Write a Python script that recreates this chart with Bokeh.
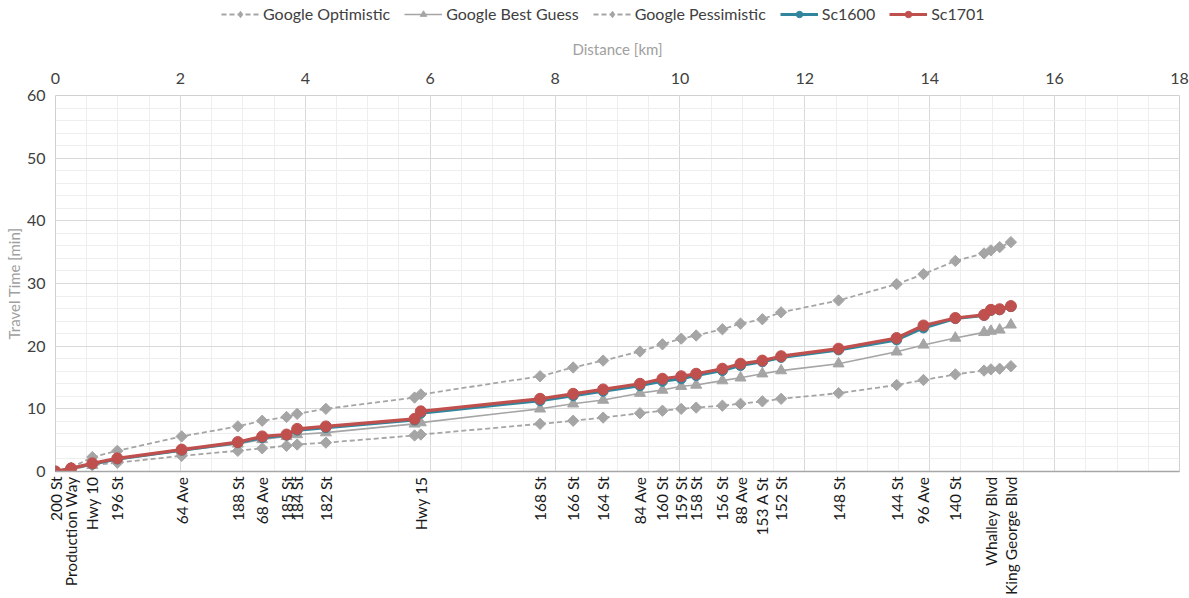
import math
from bokeh.plotting import figure
from bokeh.layouts import column
from bokeh.models import (LinearAxis, FixedTicker, SingleIntervalTicker, Range1d,
                          Legend, LegendItem)
from bokeh.embed import file_html
from bokeh.resources import INLINE

stations = ["200 St", "Production Way", "Hwy 10", "196 St", "64 Ave", "188 St", "68 Ave",
            "185 St", "184 St", "182 St", "", "Hwy 15", "168 St", "166 St", "164 St",
            "84 Ave", "160 St", "159 St", "158 St", "156 St", "88 Ave", "153 A St", "152 St",
            "148 St", "144 St", "96 Ave", "140 St", "", "Whalley Blvd", "", "King George Blvd"]
distance_km = [0.0, 0.25, 0.59, 0.99, 2.02, 2.92, 3.31, 3.70, 3.87, 4.33, 5.75, 5.85,
               7.76, 8.29, 8.77, 9.36, 9.72, 10.02, 10.26, 10.68, 10.97, 11.32, 11.62,
               12.54, 13.47, 13.90, 14.41, 14.87, 14.98, 15.12, 15.30]
google_optimistic = [0, 0.35, 1.0, 1.4, 2.5, 3.3, 3.7, 4.1, 4.3, 4.6, 5.75, 5.9, 7.6, 8.1,
                     8.6, 9.3, 9.7, 10.0, 10.2, 10.5, 10.8, 11.2, 11.6, 12.5, 13.8, 14.6,
                     15.5, 16.1, 16.3, 16.4, 16.8]
google_best_guess = [0, 0.4, 1.0, 1.9, 3.3, 4.4, 5.1, 5.6, 5.9, 6.2, 7.6, 7.8, 10.0, 10.8,
                     11.4, 12.5, 13.0, 13.6, 13.8, 14.5, 14.95, 15.6, 16.1, 17.2, 19.1, 20.2,
                     21.3, 22.2, 22.4, 22.6, 23.4]
google_pessimistic = [0, 0.6, 2.3, 3.3, 5.6, 7.2, 8.1, 8.7, 9.2, 10.0, 11.8, 12.3, 15.2,
                      16.6, 17.7, 19.15, 20.3, 21.2, 21.7, 22.7, 23.6, 24.3, 25.4, 27.3,
                      29.9, 31.5, 33.6, 34.8, 35.3, 35.8, 36.6]
sc1600 = [0, 0.5, 1.2, 2.0, 3.4, 4.6, 5.4, 5.8, 6.6, 7.0, 8.2, 9.3, 11.3, 12.1, 12.8, 13.7,
          14.4, 14.8, 15.3, 16.1, 16.9, 17.5, 18.2, 19.4, 21.0, 22.9, 24.4, 24.9, 25.7,
          25.8, 26.3]
sc1701 = [0, 0.5, 1.3, 2.1, 3.5, 4.7, 5.6, 5.9, 6.8, 7.2, 8.4, 9.6, 11.6, 12.4, 13.1, 14.0,
          14.8, 15.2, 15.6, 16.4, 17.2, 17.7, 18.4, 19.6, 21.3, 23.3, 24.5, 25.0, 25.8,
          25.9, 26.4]

FONT = "Lato"
GREY = "#a5a5a5"
TXT = "#404040"
RED = "#c0504d"
TEAL = "#31859c"

p = figure(width=1189, height=572, output_backend="svg", toolbar_location=None,
           x_range=Range1d(0, 18), y_range=Range1d(0, 60), x_axis_location="above",
           min_border_left=55, min_border_right=10, min_border_top=69, min_border_bottom=127)
p.background_fill_color = "white"
p.border_fill_color = "white"
p.outline_line_color = "#d0d0d0"

# top axis (distance)
top = p.xaxis[0]
top.ticker = SingleIntervalTicker(interval=2, num_minor_ticks=4)
top.axis_label = "Distance [km]"
top.axis_label_text_font = FONT
top.axis_label_text_font_style = "normal"
top.axis_label_text_font_size = "15px"
top.axis_label_text_color = "#a0a0a0"
top.axis_label_standoff = 12
top.major_label_text_font = FONT
top.major_label_text_font_size = "16px"
top.major_label_text_color = TXT
top.major_label_standoff = 12
top.axis_line_color = None
top.major_tick_line_color = None
top.minor_tick_line_color = None
top.major_tick_out = 0
top.minor_tick_out = 0

# left axis
ya = p.yaxis[0]
ya.ticker = SingleIntervalTicker(interval=10, num_minor_ticks=5)
ya.axis_label = "Travel Time [min]"
ya.axis_label_text_font = FONT
ya.axis_label_text_font_style = "normal"
ya.axis_label_text_font_size = "15px"
ya.axis_label_text_color = "#a0a0a0"
ya.axis_label_standoff = 1
ya.major_label_text_font = FONT
ya.major_label_text_font_size = "16px"
ya.major_label_text_color = TXT
ya.major_label_standoff = 10
ya.axis_line_color = None
ya.major_tick_line_color = None
ya.minor_tick_line_color = None
ya.major_tick_out = 0
ya.minor_tick_out = 0

# bottom axis with station names
bottom = LinearAxis(ticker=FixedTicker(ticks=distance_km),
                    major_label_overrides={d: s for d, s in zip(distance_km, stations)})
bottom.major_label_orientation = math.pi / 2
bottom.major_label_text_font = FONT
bottom.major_label_text_font_size = "15.5px"
bottom.major_label_text_color = "#1a1a1a"
bottom.major_label_standoff = 5
bottom.major_tick_line_color = None
bottom.minor_tick_line_color = None
bottom.major_tick_out = 0
bottom.minor_tick_out = 0
bottom.axis_line_color = "#a6a6a6"
bottom.axis_line_width = 1.5
p.add_layout(bottom, "below")

p.xgrid.grid_line_color = "#d9d9d9"
p.xgrid.minor_grid_line_color = "#eeeeee"
p.ygrid.grid_line_color = "#d9d9d9"
p.ygrid.minor_grid_line_color = "#eeeeee"

# series
p.line(distance_km, google_optimistic, line_color=GREY, line_width=1.8, line_dash="5 3")
p.scatter(distance_km, google_optimistic, marker="square", angle=math.pi / 4, size=8,
          fill_color=GREY, line_color=GREY)
p.line(distance_km, google_pessimistic, line_color=GREY, line_width=1.8, line_dash="5 3")
p.scatter(distance_km, google_pessimistic, marker="square", angle=math.pi / 4, size=8,
          fill_color=GREY, line_color=GREY)
p.line(distance_km, google_best_guess, line_color=GREY, line_width=1.6)
p.scatter(distance_km, google_best_guess, marker="triangle", size=11,
          fill_color=GREY, line_color=GREY)
p.line(distance_km, sc1600, line_color=TEAL, line_width=3)
p.scatter(distance_km, sc1600, marker="circle", size=10, fill_color=TEAL, line_color=TEAL)
p.line(distance_km, sc1701, line_color=RED, line_width=3.2)
p.scatter(distance_km, sc1701, marker="circle", size=11, fill_color=RED, line_color=RED)

# legend strip (separate small figure, glyph samples drawn off-range)
lg = figure(width=1189, height=26, output_backend="svg", toolbar_location=None,
            x_range=Range1d(0, 1), y_range=Range1d(0, 1), min_border=0,
            x_axis_location=None, y_axis_location=None)
lg.grid.visible = False
lg.outline_line_color = None
lg.background_fill_color = "white"
lg.border_fill_color = "white"

OFF = [-5, -4]


def entry(dash, marker, msize, color, lw):
    r1 = lg.line(x=OFF, y=OFF, line_color=color, line_width=lw, line_dash=dash)
    r2 = lg.scatter(x=OFF, y=OFF, marker=marker, size=msize,
                    fill_color=color, line_color=color)
    return [r1, r2]


legend = Legend(items=[
    LegendItem(label="Google Optimistic", renderers=entry("5 3", "diamond", 11, GREY, 1.8)),
    LegendItem(label="Google Best Guess", renderers=entry("solid", "triangle", 12, GREY, 1.6)),
    LegendItem(label="Google Pessimistic", renderers=entry("5 3", "diamond", 11, GREY, 1.8)),
    LegendItem(label="Sc1600", renderers=entry("solid", "circle", 10, TEAL, 3)),
    LegendItem(label="Sc1701", renderers=entry("solid", "circle", 10, RED, 3)),
], orientation="horizontal", location=(166, 3))
legend.label_text_font = FONT
legend.label_text_font_size = "16px"
legend.label_text_color = TXT
legend.glyph_width = 38
legend.glyph_height = 16
legend.spacing = 14
legend.padding = 0
legend.margin = 0
legend.label_standoff = 4
legend.border_line_color = None
legend.background_fill_alpha = 0
lg.add_layout(legend, "center")

layout = column(lg, p, spacing=0)
open("out.html", "w").write(file_html(layout, INLINE))
